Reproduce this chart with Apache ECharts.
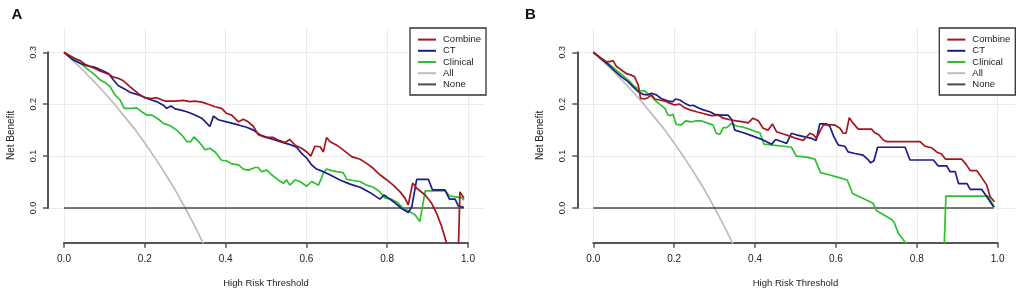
<!DOCTYPE html>
<html>
<head>
<meta charset="utf-8">
<script src="https://cdn.jsdelivr.net/npm/echarts@6/dist/echarts.min.js"></script>
<style>
  html, body { margin: 0; padding: 0; background: #fff; }
  #chart { width: 1021px; height: 294px; }
</style>
</head>
<body>
<div id="chart"></div>
<script>
// net benefit curves, [threshold, net benefit]
const combineA = [[0,0.300],[0.027,0.288],[0.04,0.284],[0.052,0.277],[0.073,0.270],[0.089,0.264],[0.110,0.258],[0.122,0.252],[0.134,0.250],[0.147,0.245],[0.163,0.234],[0.188,0.218],[0.200,0.2125],[0.217,0.211],[0.229,0.2125],[0.25,0.206],[0.275,0.206],[0.295,0.2075],[0.312,0.205],[0.324,0.206],[0.341,0.204],[0.357,0.200],[0.374,0.195],[0.390,0.192],[0.403,0.182],[0.415,0.179],[0.432,0.166],[0.444,0.171],[0.456,0.166],[0.469,0.157],[0.481,0.141],[0.498,0.136],[0.518,0.136],[0.530,0.131],[0.547,0.126],[0.559,0.132],[0.572,0.121],[0.588,0.115],[0.601,0.108],[0.611,0.100],[0.621,0.119],[0.634,0.118],[0.642,0.108],[0.650,0.136],[0.658,0.128],[0.675,0.121],[0.691,0.112],[0.712,0.099],[0.733,0.094],[0.749,0.086],[0.766,0.076],[0.782,0.064],[0.799,0.054],[0.815,0.044],[0.832,0.031],[0.844,0.019],[0.852,0.006],[0.863,0.048],[0.873,0.038],[0.894,0.025],[0.910,0.009],[0.922,-0.010],[0.935,-0.036],[0.946,-0.065],[0.96,-0.15],[0.97,-0.26],[0.98,0.031],[0.99,0.019]]
const ctA = [[0,0.300],[0.023,0.285],[0.04,0.279],[0.056,0.274],[0.073,0.272],[0.085,0.268],[0.097,0.264],[0.110,0.259],[0.122,0.247],[0.134,0.236],[0.151,0.229],[0.163,0.223],[0.180,0.219],[0.196,0.2145],[0.213,0.209],[0.229,0.205],[0.246,0.198],[0.254,0.192],[0.265,0.1965],[0.275,0.191],[0.287,0.189],[0.304,0.1855],[0.320,0.1805],[0.341,0.173],[0.361,0.157],[0.370,0.177],[0.382,0.170],[0.407,0.165],[0.432,0.160],[0.452,0.1555],[0.469,0.150],[0.485,0.141],[0.502,0.136],[0.522,0.131],[0.543,0.126],[0.564,0.121],[0.576,0.117],[0.588,0.105],[0.601,0.096],[0.613,0.083],[0.625,0.075],[0.642,0.070],[0.658,0.064],[0.683,0.054],[0.708,0.046],[0.733,0.040],[0.757,0.030],[0.782,0.017],[0.792,0.025],[0.803,0.019],[0.819,0.010],[0.836,-0.001],[0.852,-0.009],[0.861,0.0025],[0.873,0.055],[0.902,0.055],[0.912,0.035],[0.943,0.035],[0.954,0.017],[0.968,0.017],[0.976,0.004],[0.99,0.001]]
const clinicalA = [[0,0.300],[0.023,0.287],[0.04,0.279],[0.056,0.269],[0.073,0.259],[0.081,0.253],[0.089,0.247],[0.101,0.242],[0.114,0.234],[0.126,0.218],[0.139,0.208],[0.149,0.192],[0.168,0.192],[0.180,0.193],[0.192,0.1855],[0.205,0.179],[0.217,0.179],[0.233,0.1715],[0.246,0.163],[0.262,0.159],[0.279,0.150],[0.291,0.141],[0.304,0.128],[0.314,0.128],[0.322,0.137],[0.341,0.121],[0.349,0.112],[0.361,0.115],[0.374,0.108],[0.390,0.092],[0.403,0.0905],[0.415,0.085],[0.432,0.083],[0.444,0.075],[0.456,0.073],[0.473,0.078],[0.481,0.078],[0.489,0.070],[0.502,0.073],[0.514,0.064],[0.530,0.054],[0.543,0.0475],[0.551,0.054],[0.559,0.044],[0.572,0.054],[0.584,0.051],[0.601,0.042],[0.613,0.051],[0.621,0.0475],[0.630,0.044],[0.642,0.067],[0.650,0.075],[0.663,0.072],[0.675,0.070],[0.691,0.068],[0.700,0.055],[0.716,0.053],[0.733,0.051],[0.749,0.044],[0.766,0.040],[0.782,0.031],[0.795,0.019],[0.811,0.017],[0.828,0.009],[0.840,-0.001],[0.856,-0.007],[0.869,-0.0135],[0.881,-0.026],[0.894,0.033],[0.943,0.033],[0.955,0.023],[0.984,0.020],[0.99,0.015]]

const combineB = [[0,0.300],[0.020,0.288],[0.032,0.282],[0.041,0.282],[0.049,0.284],[0.057,0.273],[0.069,0.266],[0.082,0.259],[0.094,0.256],[0.102,0.253],[0.111,0.237],[0.117,0.211],[0.127,0.210],[0.135,0.2125],[0.144,0.218],[0.152,0.210],[0.164,0.208],[0.177,0.206],[0.189,0.202],[0.201,0.1985],[0.214,0.200],[0.226,0.193],[0.239,0.189],[0.255,0.1855],[0.272,0.182],[0.292,0.178],[0.309,0.179],[0.321,0.173],[0.338,0.170],[0.354,0.168],[0.371,0.166],[0.383,0.164],[0.395,0.173],[0.408,0.168],[0.420,0.1535],[0.432,0.150],[0.443,0.162],[0.453,0.147],[0.470,0.1425],[0.486,0.1385],[0.502,0.134],[0.519,0.130],[0.527,0.137],[0.536,0.144],[0.544,0.141],[0.552,0.134],[0.560,0.147],[0.569,0.160],[0.597,0.160],[0.610,0.1535],[0.618,0.144],[0.625,0.144],[0.633,0.174],[0.643,0.163],[0.655,0.152],[0.688,0.152],[0.696,0.145],[0.706,0.141],[0.717,0.131],[0.725,0.128],[0.808,0.128],[0.820,0.119],[0.837,0.116],[0.849,0.108],[0.861,0.104],[0.871,0.094],[0.911,0.094],[0.921,0.085],[0.932,0.072],[0.948,0.072],[0.960,0.059],[0.973,0.044],[0.981,0.022],[0.992,0.012]]
const ctB = [[0,0.300],[0.020,0.287],[0.036,0.277],[0.053,0.264],[0.069,0.253],[0.086,0.2435],[0.098,0.234],[0.111,0.224],[0.123,0.219],[0.135,0.218],[0.144,0.221],[0.156,0.218],[0.168,0.211],[0.185,0.206],[0.197,0.205],[0.203,0.210],[0.214,0.208],[0.226,0.202],[0.239,0.197],[0.247,0.198],[0.259,0.193],[0.272,0.189],[0.288,0.1855],[0.300,0.1805],[0.317,0.179],[0.321,0.181],[0.333,0.179],[0.342,0.171],[0.350,0.150],[0.371,0.145],[0.395,0.1385],[0.420,0.131],[0.441,0.123],[0.451,0.132],[0.465,0.128],[0.478,0.1245],[0.490,0.144],[0.502,0.141],[0.523,0.137],[0.540,0.134],[0.551,0.130],[0.560,0.162],[0.577,0.162],[0.585,0.157],[0.595,0.137],[0.606,0.121],[0.622,0.119],[0.630,0.108],[0.647,0.105],[0.667,0.102],[0.680,0.0925],[0.686,0.087],[0.694,0.091],[0.703,0.117],[0.771,0.117],[0.783,0.0925],[0.841,0.0925],[0.853,0.081],[0.874,0.081],[0.882,0.070],[0.895,0.070],[0.903,0.047],[0.924,0.047],[0.932,0.036],[0.960,0.036],[0.973,0.022],[0.99,0.002]]
const clinicalB = [[0,0.300],[0.020,0.288],[0.036,0.279],[0.053,0.268],[0.069,0.258],[0.086,0.247],[0.102,0.234],[0.115,0.226],[0.127,0.2255],[0.140,0.218],[0.152,0.208],[0.164,0.200],[0.177,0.192],[0.185,0.179],[0.191,0.178],[0.197,0.1805],[0.205,0.161],[0.218,0.160],[0.228,0.168],[0.243,0.166],[0.255,0.168],[0.267,0.168],[0.284,0.163],[0.296,0.160],[0.304,0.144],[0.313,0.142],[0.321,0.155],[0.330,0.155],[0.342,0.163],[0.354,0.158],[0.371,0.1555],[0.387,0.1515],[0.403,0.147],[0.412,0.145],[0.422,0.123],[0.445,0.121],[0.470,0.119],[0.490,0.117],[0.502,0.100],[0.527,0.098],[0.548,0.094],[0.562,0.068],[0.585,0.0635],[0.606,0.059],[0.628,0.054],[0.641,0.028],[0.692,0.009],[0.700,-0.005],[0.709,-0.009],[0.738,-0.022],[0.744,-0.028],[0.754,-0.048],[0.773,-0.068],[0.79,-0.10],[0.82,-0.15],[0.86,-0.25],[0.872,0.023],[0.976,0.023],[0.992,0.001]]

// treat-all and treat-none reference lines (same in both panels)
const treatAll = [[0,0.300],[0.025,0.282],[0.05,0.263],[0.075,0.243],[0.1,0.222],[0.125,0.200],[0.15,0.176],[0.175,0.152],[0.2,0.125],[0.225,0.097],[0.25,0.067],[0.275,0.035],[0.3,0.0],[0.325,-0.037],[0.35,-0.077]]
const treatNone = [[0,0],[0.99,0]]

const seriesNames = ['Combine', 'CT', 'Clinical', 'All', 'None']
const seriesColors = ['#a3161b', '#1c1c8a', '#2fbf2f', '#bdbdbd', '#4a4a4a']
const panelTitles = ['A', 'B']
const panelData = [
  [combineA, ctA, clinicalA, treatAll, treatNone],
  [combineB, ctB, clinicalB, treatAll, treatNone]
]

const FONT = '"Liberation Sans", Arial, sans-serif'
const AXIS_COLOR = '#555'
const GRID_COLOR = '#ebebeb'

// pixel layout of each panel: data frame and the shorter R style y axis
const layout = [
  { plotLeft: 64, plotWidth: 404, axisLeft: 48, axisWidth: 437, legendLeft: 410, titleLeft: 11.5 },
  { plotLeft: 593.3, plotWidth: 404.4, axisLeft: 577.3, axisWidth: 437.7, legendLeft: 939.3, titleLeft: 525 }
]
const PLOT_TOP = 28
const PLOT_HEIGHT = 214.7
const Y_MIN = -0.0669
const Y_MAX = 0.3468

function fmt(v) {
  return v.toFixed(1)
}

function getOptions() {
  const grid = []
  const xAxis = []
  const yAxis = []
  const series = []
  const legend = []
  const title = []

  layout.forEach((p, i) => {
    const g = grid.length
    // data frame with x axis, vertical grid lines
    grid.push({ left: p.plotLeft, top: PLOT_TOP, width: p.plotWidth, height: PLOT_HEIGHT })
    // y axis spanning 0..0.3 only, horizontal grid lines
    grid.push({ left: p.axisLeft, top: 52.3, width: p.axisWidth, height: 155.7 })

    xAxis.push({
      gridIndex: g,
      type: 'value',
      min: 0,
      max: 1,
      interval: 0.2,
      name: 'High Risk Threshold',
      nameLocation: 'middle',
      nameGap: 36,
      nameTextStyle: { fontFamily: FONT, fontSize: 9.5, color: '#222' },
      axisLine: { onZero: false, lineStyle: { color: AXIS_COLOR, width: 2 } },
      axisTick: { length: 5, lineStyle: { color: AXIS_COLOR, width: 1.5 } },
      axisLabel: { margin: 12, fontFamily: FONT, fontSize: 10, color: '#222', formatter: fmt },
      splitLine: { lineStyle: { color: GRID_COLOR, width: 1 } }
    })
    yAxis.push({
      gridIndex: g,
      type: 'value',
      min: Y_MIN,
      max: Y_MAX,
      name: 'Net Benefit',
      nameLocation: 'middle',
      nameRotate: 90,
      nameGap: 48,
      nameTextStyle: { fontFamily: FONT, fontSize: 10, color: '#222' },
      axisLine: { show: false },
      axisTick: { show: false },
      axisLabel: { show: false },
      splitLine: { show: false }
    })

    xAxis.push({ gridIndex: g + 1, type: 'value', min: 0, max: 1, show: false })
    yAxis.push({
      gridIndex: g + 1,
      type: 'value',
      min: 0,
      max: 0.3,
      interval: 0.1,
      axisLine: { onZero: false, lineStyle: { color: AXIS_COLOR, width: 2 } },
      axisTick: { length: 5, lineStyle: { color: AXIS_COLOR, width: 1.5 } },
      axisLabel: { rotate: 90, margin: 10, fontFamily: FONT, fontSize: 9, color: '#222', formatter: fmt },
      splitLine: { lineStyle: { color: GRID_COLOR, width: 1 } }
    })

    // draw All and None first so the models sit on top
    const order = [3, 4, 2, 1, 0]
    order.forEach(k => {
      series.push({
        name: seriesNames[k],
        type: 'line',
        xAxisIndex: g,
        yAxisIndex: g,
        data: panelData[i][k],
        symbol: 'none',
        clip: true,
        color: seriesColors[k],
        lineStyle: { color: seriesColors[k], width: k === 4 ? 1.6 : 1.7 },
        z: 2 + order.indexOf(k)
      })
    })

    legend.push({
      orient: 'vertical',
      left: p.legendLeft,
      top: PLOT_TOP,
      data: seriesNames,
      icon: 'rect',
      itemWidth: 18,
      itemHeight: 2,
      itemGap: 0,
      padding: [6, 5, 5, 8],
      borderColor: '#333',
      borderWidth: 1.3,
      backgroundColor: '#fff',
      selectedMode: false,
      textStyle: { fontFamily: FONT, fontSize: 9.5, lineHeight: 11.2, color: '#222', padding: [0, 0, 0, 2] }
    })

    title.push({
      text: panelTitles[i],
      left: p.titleLeft,
      top: 7,
      padding: 0,
      textStyle: { fontFamily: FONT, fontWeight: 'bold', fontSize: 15, color: '#111' }
    })
  })

  return { animation: false, backgroundColor: '#fff', title, legend, grid, xAxis, yAxis, series }
}

const chart = echarts.init(document.getElementById('chart'))
chart.setOption(getOptions())
</script>
</body>
</html>
